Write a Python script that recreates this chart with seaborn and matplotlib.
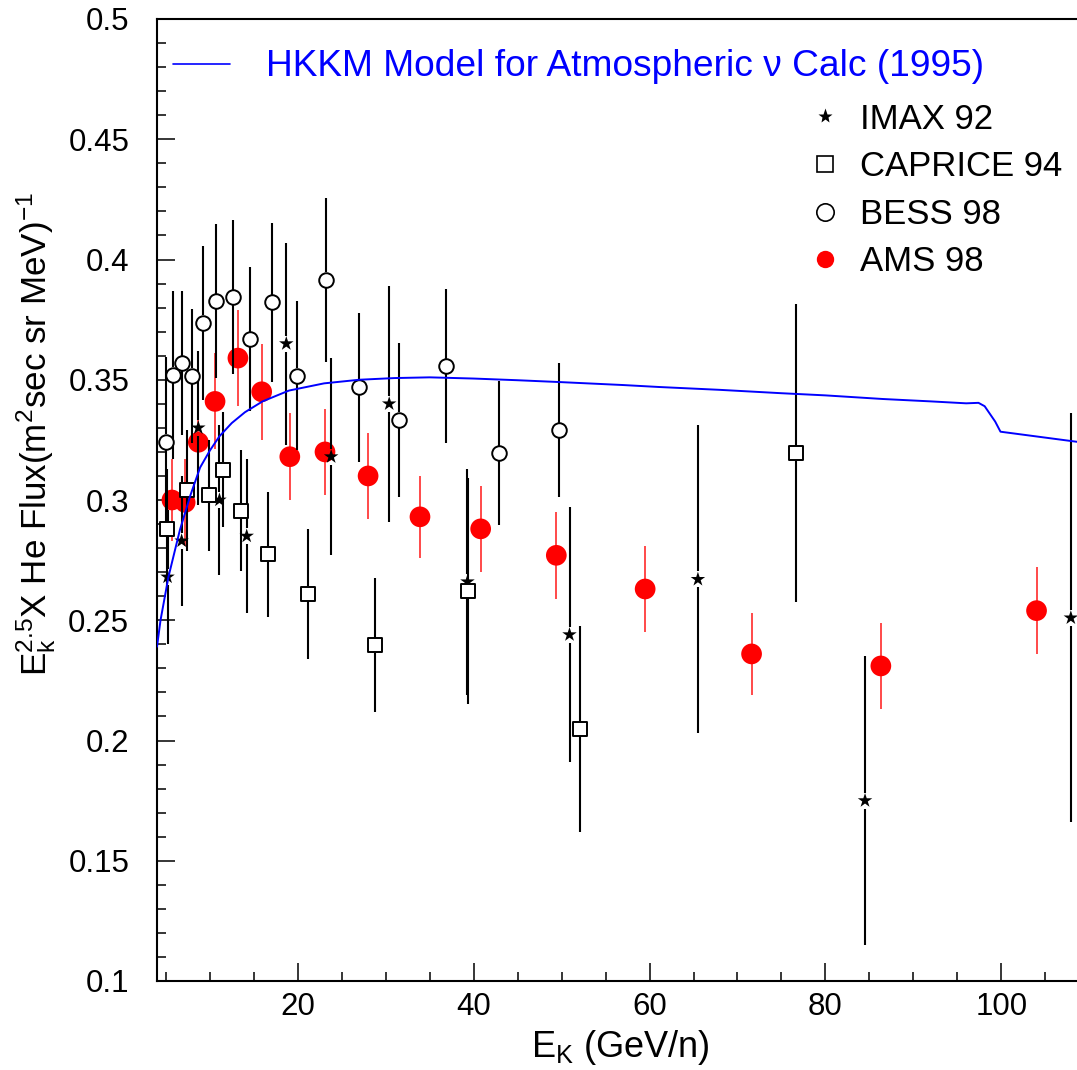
import numpy as np
import pandas as pd
import seaborn as sns
import matplotlib.pyplot as plt
from matplotlib.lines import Line2D
from matplotlib.ticker import MultipleLocator, FormatStrFormatter

# HKKM model curve
model_e = [4.0, 4.4, 5.3, 6.6, 7.8, 8.9, 10.0, 11.1, 12.5, 14.0, 16.0, 19.0, 23.0, 27.0,
           31.0, 35.0, 40.0, 45.0, 50.0, 57.0, 61.0, 68.0, 75.0, 80.0, 86.5, 92.0, 96.0,
           97.4, 98.1, 99.3, 99.9, 108.6]
model_f = [0.239, 0.250, 0.268, 0.2875, 0.302, 0.3135, 0.3205, 0.3265, 0.332, 0.3365, 0.341,
           0.3455, 0.3485, 0.350, 0.3507, 0.351, 0.3505, 0.3498, 0.349, 0.3478, 0.347,
           0.3458, 0.3444, 0.3435, 0.342, 0.341, 0.3402, 0.3404, 0.339, 0.3326, 0.3284, 0.3242]

# IMAX 92
imax_e = [5.2, 6.8, 8.7, 11.1, 14.2, 18.7, 23.8, 30.4, 39.3, 50.9, 65.5, 84.5, 107.9]
imax_f = [0.268, 0.283, 0.330, 0.300, 0.285, 0.365, 0.318, 0.340, 0.266, 0.244, 0.267, 0.175, 0.251]
imax_err = [0.028, 0.027, 0.032, 0.031, 0.032, 0.042, 0.041, 0.049, 0.047, 0.053, 0.064, 0.060, 0.085]

# CAPRICE 94
cap_e = [5.1, 7.4, 9.9, 11.5, 13.6, 16.6, 21.2, 28.8, 39.35, 52.1, 76.6]
cap_f = [0.288, 0.304, 0.302, 0.3126, 0.2956, 0.2775, 0.261, 0.2397, 0.2622, 0.2048, 0.3195]
cap_err = [0.025, 0.025, 0.023, 0.024, 0.025, 0.026, 0.027, 0.028, 0.047, 0.043, 0.062]

# BESS 98
bess_e = [5.05, 5.8, 6.82, 7.95, 9.2, 10.75, 12.6, 14.6, 17.1, 19.9, 23.2, 26.97, 31.5,
          36.85, 42.9, 49.7]
bess_f = [0.3243, 0.352, 0.3569, 0.3516, 0.3737, 0.3827, 0.3844, 0.3668, 0.3822, 0.3517,
          0.3915, 0.3468, 0.3333, 0.3557, 0.3194, 0.3291]
bess_err = [0.035, 0.035, 0.030, 0.028, 0.032, 0.032, 0.032, 0.030, 0.033, 0.031, 0.034,
            0.031, 0.032, 0.032, 0.030, 0.028]

# AMS 98
ams_e = [5.7, 7.2, 8.7, 10.6, 13.2, 15.9, 19.1, 23.1, 28.0, 33.9, 40.8, 49.4, 59.5, 71.6,
         86.3, 104.0]
ams_f = [0.300, 0.299, 0.324, 0.341, 0.359, 0.345, 0.318, 0.320, 0.310, 0.293, 0.288,
         0.277, 0.263, 0.236, 0.231, 0.254]
ams_err = [0.017, 0.018, 0.019, 0.020, 0.020, 0.020, 0.018, 0.018, 0.018, 0.017, 0.018,
           0.018, 0.018, 0.017, 0.018, 0.018]

sns.set_style("ticks")
plt.rcParams['font.family'] = ['Liberation Sans', 'DejaVu Sans']
plt.rcParams['mathtext.fontset'] = 'custom'
plt.rcParams['mathtext.rm'] = 'Liberation Sans'
plt.rcParams['mathtext.it'] = 'Liberation Sans:italic'
plt.rcParams['text.color'] = 'black'
plt.rcParams['axes.labelcolor'] = 'black'
plt.rcParams['xtick.color'] = 'black'
plt.rcParams['ytick.color'] = 'black'

fig = plt.figure(figsize=(10.77, 10.70), dpi=100)
ax = fig.add_axes([157 / 1077, 89 / 1070, 920 / 1077, 962 / 1070])

ymin, ymax = 0.1, 0.5
px_per_unit = 962 / (ymax - ymin)


def bars(x, y, err, gap_px, color, lw, z):
    x, y, err = np.asarray(x), np.asarray(y), np.asarray(err)
    gap = gap_px / px_per_unit
    ax.vlines(x, y - err, y - gap, color=color, lw=lw, zorder=z)
    ax.vlines(x, y + gap, y + err, color=color, lw=lw, zorder=z)


# AMS (bottom layer)
bars(ams_e, ams_f, ams_err, 0, '#ff2a2a', 1.2, 1)
sns.scatterplot(x=ams_e, y=ams_f, marker='o', s=222, color='red', edgecolor='none',
                linewidth=0, ax=ax, zorder=2, legend=False)

# black data sets
bars(imax_e, imax_f, imax_err, 8, 'black', 1.5, 3)
bars(cap_e, cap_f, cap_err, 7.5, 'black', 1.5, 3)
bars(bess_e, bess_f, bess_err, 7.5, 'black', 1.5, 3)

sns.scatterplot(x=imax_e, y=imax_f, marker='*', s=120, color='black', edgecolor='none',
                linewidth=0, ax=ax, zorder=4, legend=False)
sns.scatterplot(x=cap_e, y=cap_f, marker='s', s=105, facecolor='white', edgecolor='black',
                linewidth=1.4, ax=ax, zorder=4, legend=False)
sns.scatterplot(x=bess_e, y=bess_f, marker='o', s=110, facecolor='white', edgecolor='black',
                linewidth=1.4, ax=ax, zorder=4, legend=False)

# model line on top
sns.lineplot(x=model_e, y=model_f, color='blue', lw=1.4, ax=ax, zorder=6,
             sort=False, estimator=None)

ax.set_xlim(4, 108.6)
ax.set_ylim(ymin, ymax)

ax.xaxis.set_major_locator(MultipleLocator(20))
ax.xaxis.set_minor_locator(MultipleLocator(5))
ax.yaxis.set_major_locator(MultipleLocator(0.05))
ax.yaxis.set_minor_locator(MultipleLocator(0.01))
ax.yaxis.set_major_formatter(FormatStrFormatter('%g'))
ax.tick_params(which='both', direction='in', top=False, right=False, labelsize=22.5,
               width=1.1)
ax.tick_params(which='major', length=13)
ax.tick_params(which='minor', length=6.5)
ax.tick_params(axis='y', which='major', pad=20)
ax.tick_params(axis='x', which='major', pad=8)
for s in ['left', 'bottom', 'top']:
    ax.spines[s].set_linewidth(1.5)
    ax.spines[s].set_color('black')
ax.spines['right'].set_visible(False)

ax.set_xlabel(r'$\mathregular{E_K}$ (GeV/n)', fontsize=26)
ax.xaxis.set_label_coords(0.504, -0.049)
ax.xaxis.label.set_va('top')
ax.set_ylabel(r'$\mathregular{E_k^{2.5}}$X He Flux(m$\mathregular{^2}$sec sr MeV)$\mathregular{^{-1}}$',
              fontsize=25.2)
ax.yaxis.set_label_coords(-0.108, 0.569)

# legends
h_model = Line2D([], [], color='blue', lw=1.2)
leg1 = ax.legend([h_model], ['HKKM Model for Atmospheric \u03bd Calc (1995)'],
                 loc='center left', bbox_to_anchor=(173 / 1077, 1 - 67 / 1070),
                 bbox_transform=fig.transFigure, frameon=False, fontsize=26.7,
                 handlelength=1.55, handletextpad=0.95, borderpad=0, borderaxespad=0,
                 labelcolor='blue')
ax.add_artist(leg1)

handles = [
    Line2D([], [], ls='none', marker='*', ms=11, color='black', mec='none'),
    Line2D([], [], ls='none', marker='s', ms=12, mfc='white', mec='black', mew=1.2),
    Line2D([], [], ls='none', marker='o', ms=12.5, mfc='white', mec='black', mew=1.2),
    Line2D([], [], ls='none', marker='o', ms=12.5, color='red', mec='none'),
]
labels = ['IMAX 92', 'CAPRICE 94', 'BESS 98', 'AMS 98']
ax.legend(handles, labels, loc='center left', bbox_to_anchor=(808 / 1077, 1 - 190.5 / 1070),
          bbox_transform=fig.transFigure, frameon=False, fontsize=25,
          handlelength=1.0, handletextpad=0.5, borderpad=0, borderaxespad=0,
          labelspacing=0.42)

fig.savefig('out.png', dpi=100)
